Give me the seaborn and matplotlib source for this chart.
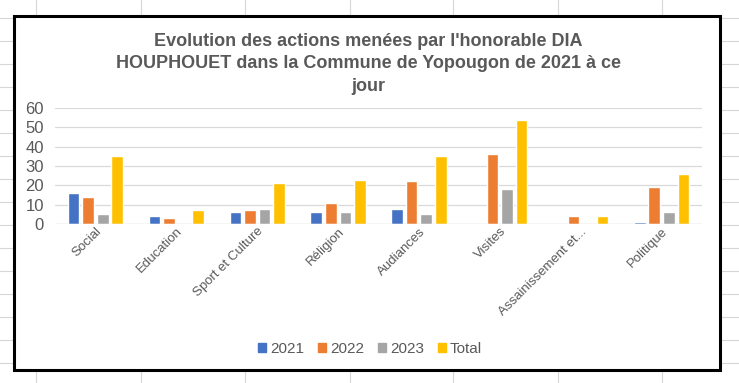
import pandas as pd
import matplotlib.pyplot as plt
from matplotlib.patches import Rectangle
from matplotlib.lines import Line2D
import seaborn as sns

sns.set_style("white")
plt.rcParams["font.family"] = ["Liberation Sans", "DejaVu Sans"]

categories = ["Social", "Education", "Sport et Culture", "Réligion",
              "Audiances", "Visites", "Assainissement et...", "Politique"]
v2021 = [16, 4, 6, 6, 8, 0, 0, 1]
v2022 = [14, 3, 7, 11, 22, 36, 4, 19]
v2023 = [5, 0, 8, 6, 5, 18, 0, 6]
total = [35, 7, 21, 23, 35, 54, 4, 26]
series = ["2021", "2022", "2023", "Total"]
colors = ["#4472C4", "#ED7D31", "#A5A5A5", "#FFC000"]

df = pd.DataFrame({"categorie": categories, "2021": v2021, "2022": v2022,
                   "2023": v2023, "Total": total})
df = df.melt(id_vars="categorie", var_name="annee", value_name="valeur")

W, H = 739, 383
fig = plt.figure(figsize=(W / 100, H / 100), dpi=100)

# spreadsheet cells behind the chart
for x in [36, 141, 245, 350, 453, 558, 662]:
    fig.add_artist(Line2D([x / W, x / W], [0, 1], color="#D6D6D6", lw=0.8, zorder=0))
for y in range(-5, H, 23):
    fig.add_artist(Line2D([0, 1], [1 - y / H, 1 - y / H], color="#D6D6D6", lw=0.8, zorder=0))
fig.add_artist(Rectangle((14 / W, 1 - 370 / H), (720 - 14) / W, (370 - 16) / H,
                         facecolor="white", edgecolor="black", lw=2.2, zorder=1))

ax = fig.add_axes([55 / W, 1 - 224 / H, (702 - 55) / W, (224 - 108) / H])
ax.set_zorder(2)
ax.patch.set_alpha(0)
sns.barplot(data=df, x="categorie", y="valeur", hue="annee", hue_order=series,
            palette=colors, width=0.72, gap=0.2, ax=ax, legend=False, saturation=1)

ax.set_ylim(0, 60)
ax.set_yticks(range(0, 61, 10))
ax.yaxis.grid(True, color="#D9D9D9", lw=0.9)
ax.set_axisbelow(True)
for s in ax.spines.values():
    s.set_visible(False)
ax.set_xlabel("")
ax.set_ylabel("")
ax.tick_params(axis="y", length=0, labelsize=12, labelcolor="#595959", pad=8)
ax.tick_params(axis="x", length=0, labelsize=9.5, labelcolor="#595959", pad=1)
ax.set_xticks(range(len(categories)))
ax.set_xticklabels(categories, rotation=45, ha="right", rotation_mode="anchor")
ax.axhline(0, color="#D9D9D9", lw=0.9)

fig.text(368 / W, 1 - 64 / H,
         "Evolution des actions menées par l'honorable DIA\n"
         "HOUPHOUET dans la Commune de Yopougon de 2021 à ce\njour",
         ha="center", va="center", fontsize=13, fontweight="bold",
         color="#595959", linespacing=1.42, zorder=3)

handles = [Rectangle((0, 0), 1, 1, color=c) for c in colors]
fig.legend(handles, series, loc="center", bbox_to_anchor=(370 / W, 1 - 349 / H),
           ncol=4, frameon=False, fontsize=11, handlelength=0.55, handleheight=0.55,
           handletextpad=0.25, columnspacing=0.9, labelcolor="#595959")

fig.savefig("out.png", dpi=100)
